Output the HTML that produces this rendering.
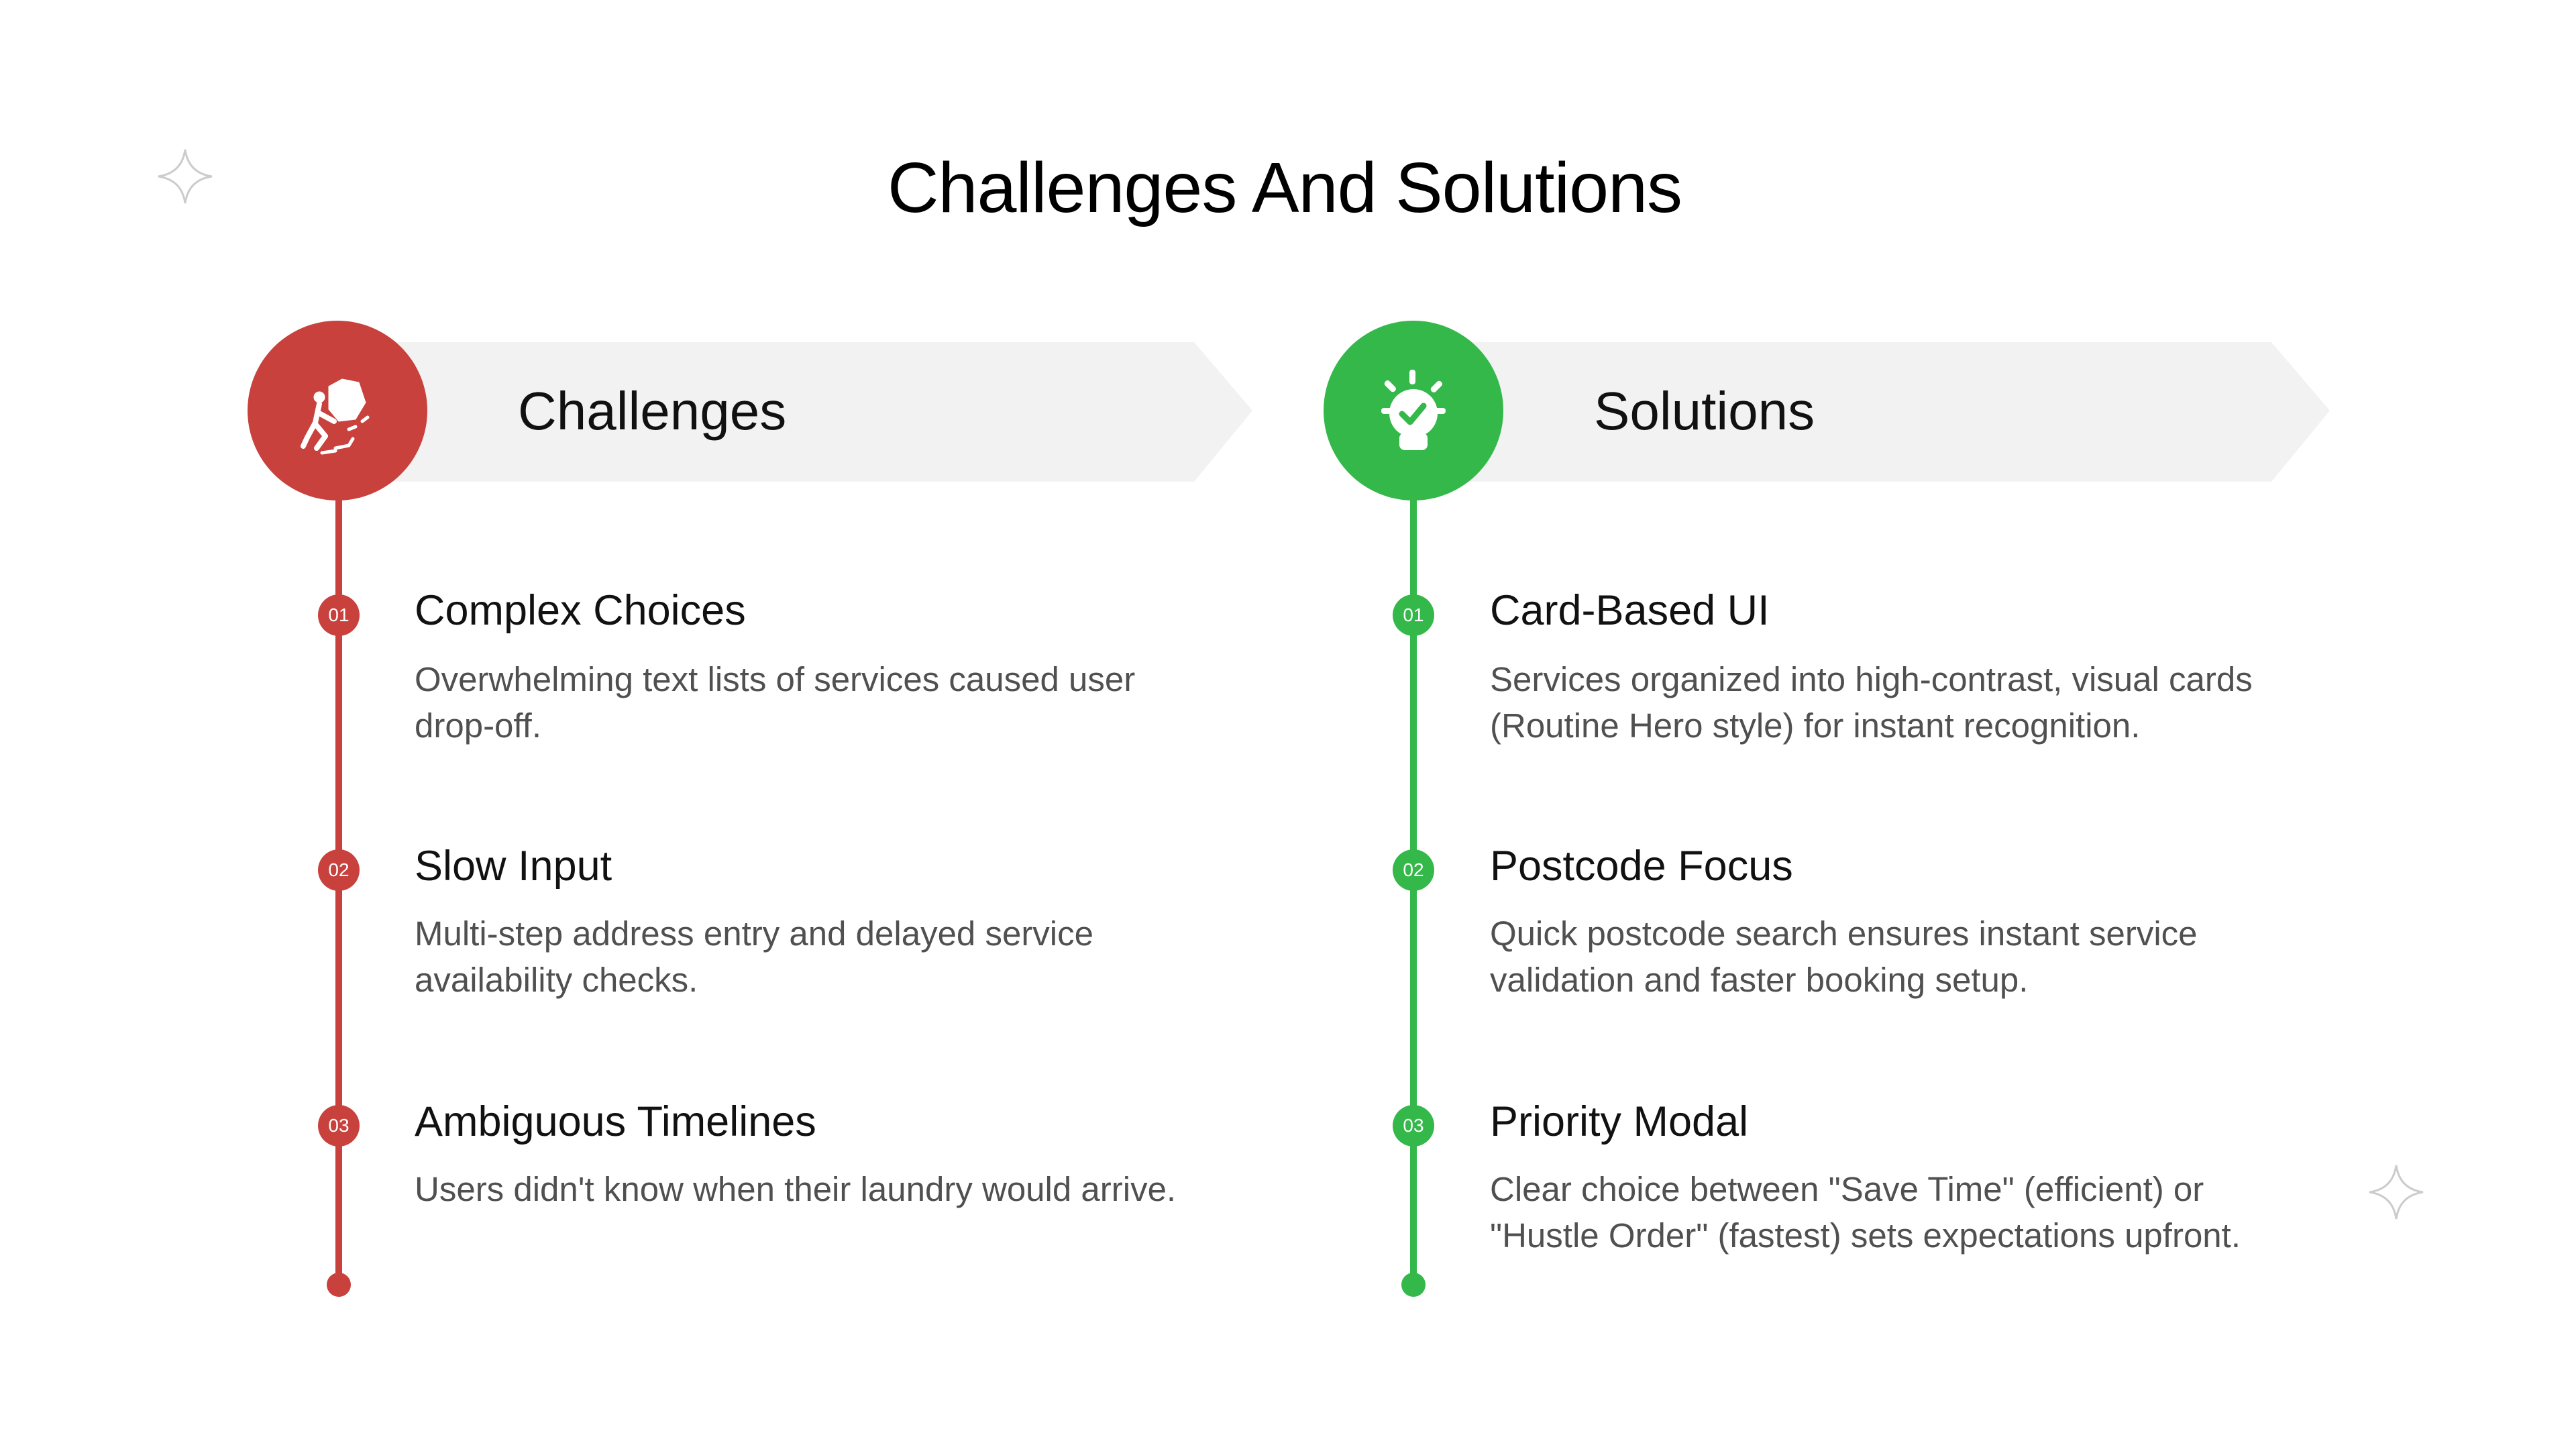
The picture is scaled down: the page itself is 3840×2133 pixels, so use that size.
<!DOCTYPE html>
<html><head><meta charset="utf-8"><style>
body{margin:0;width:3840px;height:2133px;background:#fff;position:relative;overflow:hidden;font-family:"Liberation Sans",sans-serif;}
.a{position:absolute;}
.title{left:0;width:3830px;top:215px;text-align:center;font-size:106px;line-height:130px;color:#000;letter-spacing:-1px;}
.bt{font-size:80px;line-height:90px;color:#111;}
.it{font-size:63px;line-height:70px;color:#111;}
.ds{font-size:51px;line-height:69px;color:#505050;width:1300px;}
.num{width:62px;height:62px;border-radius:50%;color:#fff;font-size:28px;line-height:62px;text-align:center;}
</style></head><body>
<div class="a title">Challenges And Solutions</div>

<svg class="a" style="left:0;top:0" width="3840" height="2133">
  <path d="M276 223 Q281 258 316 263 Q281 268 276 303 Q271 268 236 263 Q271 258 276 223Z" fill="none" stroke="#ccc" stroke-width="3"/>
  <path d="M3572 1737 Q3577 1772 3612 1777 Q3577 1782 3572 1817 Q3567 1782 3532 1777 Q3567 1772 3572 1737Z" fill="none" stroke="#ccc" stroke-width="3"/>
  <polygon points="505,510 1780,510 1867,612 1780,718 505,718" fill="#f2f2f2"/>
  <polygon points="2107,510 3386,510 3473,612 3386,718 2107,718" fill="#f2f2f2"/>
  <rect x="500" y="700" width="10" height="1215" fill="#c8413c"/>
  <rect x="2102" y="700" width="10" height="1215" fill="#34b84a"/>
  <circle cx="505" cy="1915" r="18" fill="#c8413c"/>
  <circle cx="2107" cy="1915" r="18" fill="#34b84a"/>
  <circle cx="503" cy="612" r="134" fill="#c8413c"/>
  <circle cx="2107" cy="612" r="134" fill="#34b84a"/>
  <g fill="#fff" stroke="#fff" stroke-linecap="round" stroke-linejoin="round">
    <path d="M490 576 L510 565 L535 570 L545 600 L530 625 L505 628 L490 610Z"/>
    <circle cx="476" cy="592" r="8"/>
    <path d="M476 602 L470 630 L458 652 M474 615 L498 628 M470 632 L485 650 L472 668 M458 652 L452 665" fill="none" stroke-width="8"/>
    <path d="M500 668 L520 664 L526 654 M520 640 L530 636 M540 628 L548 622 M480 675 L500 672" fill="none" stroke-width="5"/>
  </g>
  <g fill="#fff">
    <circle cx="2107" cy="616" r="36"/>
    <rect x="2086" y="645" width="42" height="26" rx="8"/>
    <rect x="2101" y="551" width="9" height="22" rx="4"/>
    <rect x="2059" y="608" width="22" height="9" rx="4"/>
    <rect x="2133" y="608" width="22" height="9" rx="4"/>
    <rect x="2068" y="566" width="9" height="20" rx="4" transform="rotate(-45 2072 576)"/>
    <rect x="2137" y="566" width="9" height="20" rx="4" transform="rotate(45 2141 576)"/>
  </g>
  <polyline points="2090,617 2102,629 2122,605" fill="none" stroke="#34b84a" stroke-width="9" stroke-linecap="round" stroke-linejoin="round"/>
</svg>

<div class="a bt" style="left:772px;top:568px">Challenges</div>
<div class="a bt" style="left:2376px;top:568px">Solutions</div>

<div class="a num" style="left:474px;top:886px;background:#c8413c">01</div>
<div class="a num" style="left:474px;top:1266px;background:#c8413c">02</div>
<div class="a num" style="left:474px;top:1647px;background:#c8413c">03</div>
<div class="a num" style="left:2076px;top:886px;background:#34b84a">01</div>
<div class="a num" style="left:2076px;top:1266px;background:#34b84a">02</div>
<div class="a num" style="left:2076px;top:1647px;background:#34b84a">03</div>

<div class="a it" style="left:618px;top:875px">Complex Choices</div>
<div class="a ds" style="left:618px;top:978px">Overwhelming text lists of services caused user<br>drop-off.</div>
<div class="a it" style="left:618px;top:1256px">Slow Input</div>
<div class="a ds" style="left:618px;top:1357px">Multi-step address entry and delayed service<br>availability checks.</div>
<div class="a it" style="left:618px;top:1637px">Ambiguous Timelines</div>
<div class="a ds" style="left:618px;top:1738px">Users didn't know when their laundry would arrive.</div>

<div class="a it" style="left:2221px;top:875px">Card-Based UI</div>
<div class="a ds" style="left:2221px;top:978px">Services organized into high-contrast, visual cards<br>(Routine Hero style) for instant recognition.</div>
<div class="a it" style="left:2221px;top:1256px">Postcode Focus</div>
<div class="a ds" style="left:2221px;top:1357px">Quick postcode search ensures instant service<br>validation and faster booking setup.</div>
<div class="a it" style="left:2221px;top:1637px">Priority Modal</div>
<div class="a ds" style="left:2221px;top:1738px">Clear choice between "Save Time" (efficient) or<br>"Hustle Order" (fastest) sets expectations upfront.</div>
</body></html>
